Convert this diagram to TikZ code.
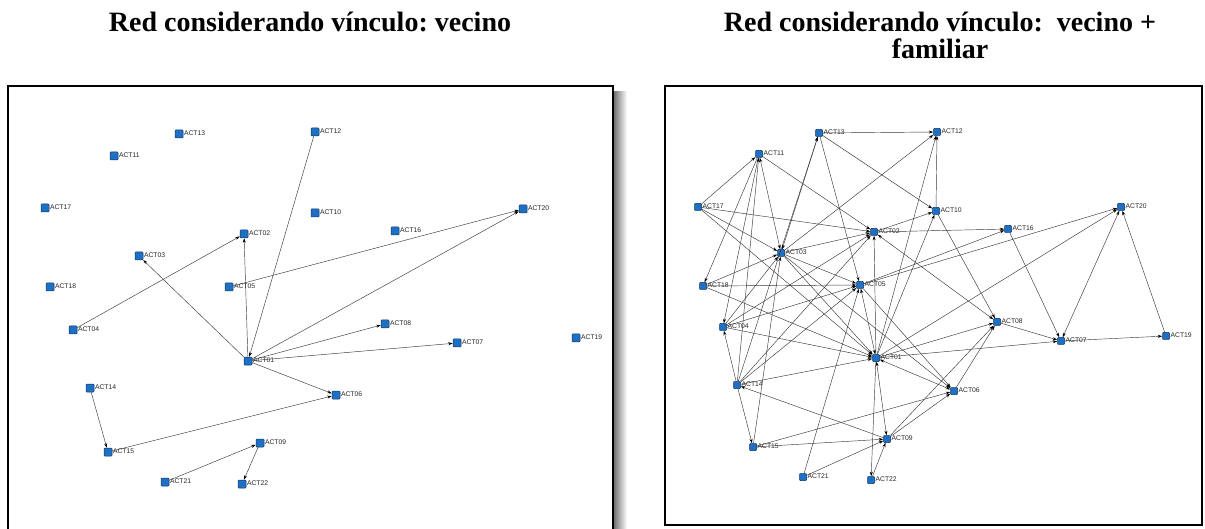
\documentclass[tikz,border=0pt]{standalone}
\usepackage{fontspec}
\setmainfont{Liberation Serif}
\newfontfamily\actfont{Liberation Sans}
\usetikzlibrary{arrows.meta}
\definecolor{actblue}{RGB}{30,112,196}
\definecolor{actedge}{RGB}{20,50,90}

\begin{document}
\begin{tikzpicture}[x=1pt, y=-1pt,
    actlbl/.style={font=\actfont\fontsize{6.8}{7}\selectfont, inner sep=0.6pt, yshift=1pt, text=black!85},
    actor/.style={draw=actedge, fill=actblue, line width=0.5pt, minimum size=8pt, inner sep=0pt,
        rounded corners=0.8pt, label={[actlbl]east:#1}},
    actorr/.style={actor=#1, minimum size=7pt},
    tie/.style={draw=black!78, line width=0.45pt, -{Stealth[length=4.5pt,width=3pt,black]}},
    tiesym/.style={tie, {Stealth[length=4.5pt,width=3pt,black]}-{Stealth[length=4.5pt,width=3pt,black]}},
    title/.style={font=\bfseries\frenchspacing\fontsize{28}{30}\selectfont, anchor=base, inner sep=0pt},
    frame/.style={line width=2.5pt}
]
\useasboundingbox (0,0) rectangle (1205,529);

% titles
\node[title] (tl) at (310,32) {Red considerando vínculo: vecino};
\node[title] (tr) at (940,32) {Red considerando vínculo:\ \ vecino +};
\node[title] (tr2) at (940,59) {familiar};

% frames
\shade[left color=black!55, right color=white] (614,92) rectangle (627,529);
\draw[frame] (8,529) -- (8,86) -- (613,86) -- (613,529);
\draw[frame] (665,86) rectangle (1202,525);

% red: vecino
\node[actor=ACT13] (L13) at (179,134) {};
\node[actor=ACT11] (L11) at (114,156) {};
\node[actor=ACT12] (L12) at (315,132) {};
\node[actor=ACT17] (L17) at (45,208) {};
\node[actor=ACT10] (L10) at (315,213) {};
\node[actor=ACT16] (L16) at (395,231) {};
\node[actor=ACT20] (L20) at (523,209) {};
\node[actor=ACT02] (L02) at (244,234) {};
\node[actor=ACT03] (L03) at (139,256) {};
\node[actor=ACT18] (L18) at (50,287) {};
\node[actor=ACT05] (L05) at (229,287) {};
\node[actor=ACT04] (L04) at (73,330) {};
\node[actor=ACT08] (L08) at (385,324) {};
\node[actor=ACT19] (L19) at (576,338) {};
\node[actor=ACT07] (L07) at (457,343) {};
\node[actor=ACT01] (L01) at (248,361) {};
\node[actor=ACT14] (L14) at (90,388) {};
\node[actor=ACT06] (L06) at (336,395) {};
\node[actor=ACT15] (L15) at (108,452) {};
\node[actor=ACT09] (L09) at (260,443) {};
\node[actor=ACT21] (L21) at (165,482) {};
\node[actor=ACT22] (L22) at (242,484) {};

\draw[tie] (L01) edge (L02) edge (L03) edge (L20) edge (L08) edge (L07) edge (L06);
\draw[tie] (L04) edge (L02);
\draw[tie] (L12) edge (L01);
\draw[tie] (L05) edge (L20);
\draw[tie] (L15) edge (L06);
\draw[tie] (L14) edge (L15);
\draw[tie] (L21) edge (L09);
\draw[tie] (L09) edge (L22);

% red: vecino + familiar
\node[actorr=ACT13] (R13) at (819,133) {};
\node[actorr=ACT12] (R12) at (937,132) {};
\node[actorr=ACT11] (R11) at (759,154) {};
\node[actorr=ACT17] (R17) at (698,207) {};
\node[actorr=ACT10] (R10) at (936,211) {};
\node[actorr=ACT02] (R02) at (874,232) {};
\node[actorr=ACT16] (R16) at (1008,229) {};
\node[actorr=ACT20] (R20) at (1121,207) {};
\node[actorr=ACT03] (R03) at (781,253) {};
\node[actorr=ACT18] (R18) at (703,286) {};
\node[actorr=ACT05] (R05) at (860,285) {};
\node[actorr=ACT04] (R04) at (723,327) {};
\node[actorr=ACT08] (R08) at (997,322) {};
\node[actorr=ACT07] (R07) at (1061,341) {};
\node[actorr=ACT19] (R19) at (1166,336) {};
\node[actorr=ACT01] (R01) at (876,358) {};
\node[actorr=ACT14] (R14) at (737,385) {};
\node[actorr=ACT06] (R06) at (954,391) {};
\node[actorr=ACT15] (R15) at (753,447) {};
\node[actorr=ACT09] (R09) at (887,439) {};
\node[actorr=ACT21] (R21) at (803,477) {};
\node[actorr=ACT22] (R22) at (871,480) {};

\draw[tie] (R13) edge (R12) edge (R10) edge (R05);
\draw[tie] (R11) edge (R02) edge (R18) edge (R04);
\draw[tie] (R17) edge (R11) edge (R02) edge (R03) edge (R01);
\draw[tie] (R03) edge (R12) edge (R02) edge (R05) edge (R01) edge (R06);
\draw[tie] (R18) edge (R05) edge (R03) edge (R01);
\draw[tie] (R04) edge (R05) edge (R03) edge (R01) edge (R02);
\draw[tie] (R14) edge (R13) edge (R11) edge (R04) edge (R15) edge (R01) edge (R05) edge (R02);
\draw[tie] (R15) edge (R03) edge (R06) edge (R09);
\draw[tie] (R21) edge (R09) edge (R05);
\draw[tie] (R22) edge (R09);
\draw[tie] (R09) edge (R14) edge (R06) edge (R08);
\draw[tie] (R06) edge (R08);
\draw[tie] (R05) edge (R16) edge (R20) edge (R06);
\draw[tie] (R01) edge (R02) edge (R10) edge (R12) edge (R20) edge (R08) edge (R07) edge (R22);
\draw[tie] (R02) edge (R10) edge (R16);
\draw[tie] (R10) edge (R12) edge (R08);
\draw[tie] (R16) edge (R07);
\draw[tie] (R08) edge (R07);
\draw[tie] (R07) edge (R19);
\draw[tie] (R19) edge (R20);
\draw[tiesym] (R11) edge (R03);
\draw[tiesym] (R13) edge (R03);
\draw[tiesym] (R01) edge (R05) edge (R09) edge (R06);
\draw[tiesym] (R02) edge (R08);
\draw[tiesym] (R07) edge (R20);
\end{tikzpicture}
\end{document}
